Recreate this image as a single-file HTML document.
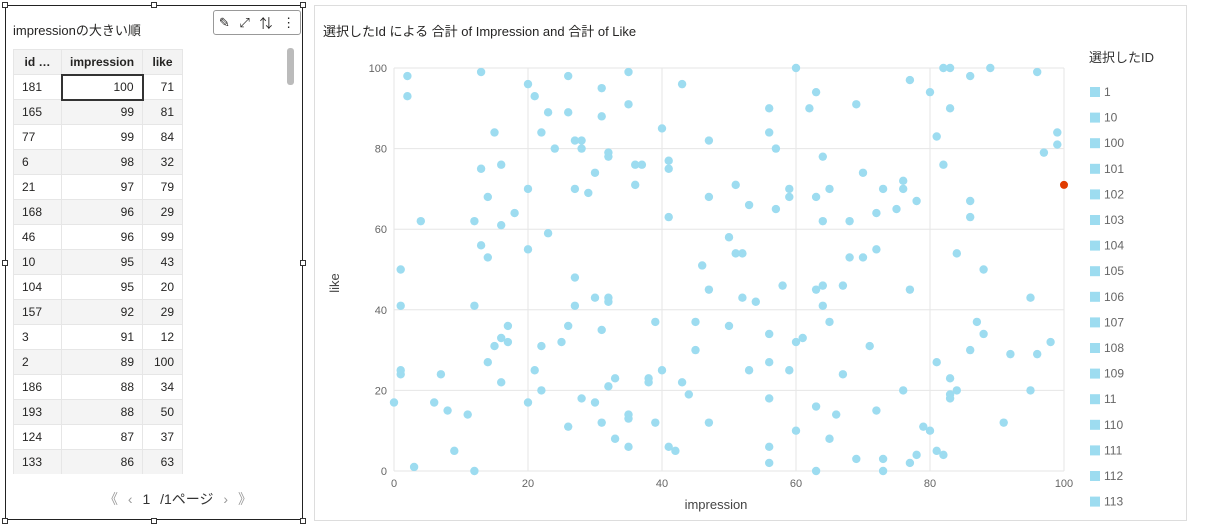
<!DOCTYPE html>
<html><head><meta charset="utf-8">
<style>
body{margin:0;width:1205px;height:532px;background:#fff;font-family:"Liberation Sans","Noto Sans CJK JP",sans-serif;position:relative;overflow:hidden;color:#252423}
.abs{position:absolute}
#left{left:5px;top:5px;width:298px;height:515px;border:1px solid #222;box-sizing:border-box}
.h{width:6px;height:6px;background:#fff;border:1px solid #333;box-sizing:border-box;position:absolute}
table{border-collapse:collapse;font-size:12px}
td,th{height:25px;padding:0 8px;box-sizing:border-box;border:1px solid #e6e6e6}
th{font-weight:bold;background:#f3f3f3;text-align:center}
tr:nth-child(odd) td{background:#f4f4f4}
.r{text-align:right}
#right{left:314px;top:5px;width:873px;height:516px;border:1px solid #ddd;box-sizing:border-box}
</style></head><body>
<table class="abs" style="left:13px;top:49px">
<tr><th style="width:48px">id …</th><th style="width:80px">impression</th><th style="width:40px">like</th></tr>
<tr><td>181</td><td class="r" style="border:2px solid #333">100</td><td class="r">71</td></tr>
<tr><td>165</td><td class="r">99</td><td class="r">81</td></tr>
<tr><td>77</td><td class="r">99</td><td class="r">84</td></tr>
<tr><td>6</td><td class="r">98</td><td class="r">32</td></tr>
<tr><td>21</td><td class="r">97</td><td class="r">79</td></tr>
<tr><td>168</td><td class="r">96</td><td class="r">29</td></tr>
<tr><td>46</td><td class="r">96</td><td class="r">99</td></tr>
<tr><td>10</td><td class="r">95</td><td class="r">43</td></tr>
<tr><td>104</td><td class="r">95</td><td class="r">20</td></tr>
<tr><td>157</td><td class="r">92</td><td class="r">29</td></tr>
<tr><td>3</td><td class="r">91</td><td class="r">12</td></tr>
<tr><td>2</td><td class="r">89</td><td class="r">100</td></tr>
<tr><td>186</td><td class="r">88</td><td class="r">34</td></tr>
<tr><td>193</td><td class="r">88</td><td class="r">50</td></tr>
<tr><td>124</td><td class="r">87</td><td class="r">37</td></tr>
<tr><td>133</td><td class="r">86</td><td class="r">63</td></tr>
<tr><td style="height:10px"></td><td></td><td></td></tr>
</table>
<div class="abs" style="left:7px;top:474px;width:294px;height:44px;background:#fff"></div>
<div id="left" class="abs"></div>
<div class="h" style="left:2px;top:2px"></div>
<div class="h" style="left:151px;top:2px"></div>
<div class="h" style="left:300px;top:2px"></div>
<div class="h" style="left:2px;top:260px"></div>
<div class="h" style="left:300px;top:260px"></div>
<div class="h" style="left:2px;top:518px"></div>
<div class="h" style="left:151px;top:518px"></div>
<div class="h" style="left:300px;top:518px"></div>
<div class="abs" style="left:13px;top:20px;font-size:13px">impressionの大きい順</div>
<div class="abs" style="left:213px;top:10px;width:86px;height:23px;border:1px solid #999;border-radius:3px;background:#fff;font-size:13px;display:flex;justify-content:space-around;align-items:center">
<span>✎</span><span>⤢</span><span>⇅</span><span>⋮</span></div>
<div class="abs" style="left:287px;top:48px;width:7px;height:37px;background:#bbb;border-radius:3px"></div>
<div class="abs" style="left:104px;top:489px;font-size:14px;color:#999;word-spacing:6px">《 ‹ <span style="color:#333">1 /1ページ</span> › 》</div>

<div id="right" class="abs"></div>
<div class="abs" style="left:323px;top:21px;font-size:13px">選択したId による 合計 of Impression and 合計 of Like</div>
<svg class="abs" style="left:0;top:0" width="1205" height="532" id="chart"></svg>
<script>
const impressions=[2,2,13,20,21,23,26,26,31,31,35,35,43,15,22,27,28,24,28,32,32,40,47,13,16,36,37,41,41,30,20,27,29,36,14,47,18,4,12,16,41,23,50,13,20,14,1,46,
60,82,83,86,89,96,77,80,63,56,62,69,83,56,57,81,99,99,97,64,82,70,51,59,59,63,65,73,76,76,53,57,78,86,86,64,68,72,75,51,52,68,70,72,84,88,
27,30,32,32,1,12,27,47,39,45,50,17,26,31,16,15,17,22,25,45,14,1,1,7,21,16,22,33,32,38,38,40,43,44,0,6,8,11,20,28,30,35,35,31,26,39,47,33,35,41,42,9,3,12,
58,63,64,67,77,52,54,64,95,65,56,60,61,71,87,88,98,86,92,96,56,53,59,67,81,83,76,83,83,84,95,56,63,66,72,91,79,80,60,65,56,56,63,69,73,73,77,78,81,82];
const likes=[98,93,99,96,93,89,98,89,95,88,99,91,96,84,84,82,82,80,80,79,78,85,82,75,76,76,76,77,75,74,70,70,69,71,68,68,64,62,62,61,63,59,58,56,55,53,50,51,
100,100,100,98,100,99,97,94,94,90,90,91,90,84,80,83,84,81,79,78,76,74,71,70,68,68,70,70,72,70,66,65,67,67,63,62,62,64,65,54,54,53,53,55,54,50,
48,43,43,42,41,41,41,45,37,37,36,36,36,35,33,31,32,31,32,30,27,25,24,24,25,22,20,23,21,23,22,25,22,19,17,17,15,14,17,18,17,14,13,12,11,12,12,8,6,6,5,5,1,0,
46,45,46,46,45,43,42,41,43,37,34,32,33,31,37,34,32,30,29,29,27,25,25,24,27,23,20,19,18,20,20,18,16,14,15,12,11,10,10,8,6,2,0,3,3,0,2,4,5,4];
const selImpression=[100];
const selLike=[71];
const xTicks=[0,20,40,60,80,100];
const yTicks=[0,20,40,60,80,100];
const legendLabels=["1","10","100","101","102","103","104","105","106","107","108","109","11","110","111","112","113"];

const svg=document.getElementById('chart');
const NS='http://www.w3.org/2000/svg';
const X=v=>394+v*6.7, Y=v=>471-v*4.03;
function mk(t,a,txt){const e=document.createElementNS(NS,t);for(const k in a)e.setAttribute(k,a[k]);if(txt!=null)e.textContent=txt;svg.appendChild(e);return e;}
xTicks.forEach(t=>{
 const g=mk('line',{x1:X(t),x2:X(t),y1:Y(0),y2:Y(100),stroke:'#e6e6e6'});
 
 
 const l=mk('text',{x:X(t),y:487,'font-size':11,fill:'#666','text-anchor':'middle'},t);
 
 
});
yTicks.forEach(t=>{
 const g=mk('line',{x1:X(0),x2:X(100),y1:Y(t),y2:Y(t),stroke:'#e6e6e6'});
 
 
 const l=mk('text',{x:387,y:Y(t)+4,'font-size':11,fill:'#666','text-anchor':'end'},t);
 
 
});
const xt=mk('text',{x:716,y:509,'font-size':13,fill:'#444','text-anchor':'middle'},'impression');


const yt=mk('text',{x:339,y:283,'font-size':13,fill:'#444','text-anchor':'middle',transform:'rotate(-90 339 283)'},'like');


impressions.forEach((v,i)=>{
 const c=mk('circle',{cx:X(v),cy:Y(likes[i]),r:4.2,fill:'#9ddcf0'});
 
 
});
selImpression.forEach((v,i)=>{
 const c=mk('circle',{cx:X(v),cy:Y(selLike[i]),r:4,fill:'#e03c00'});
 
 
});
const lt=mk('text',{x:1089,y:62,'font-size':13,fill:'#333'},'選択したID');


legendLabels.forEach((s,i)=>{
 const y=92+i*25.6;
 const r=mk('rect',{x:1090,y:y-5,width:10,height:10,fill:'#9ddcf0'});
 
 
 const t=mk('text',{x:1104,y:y+4,'font-size':12,fill:'#666'},s);
 
 
});
</script>
</body></html>
